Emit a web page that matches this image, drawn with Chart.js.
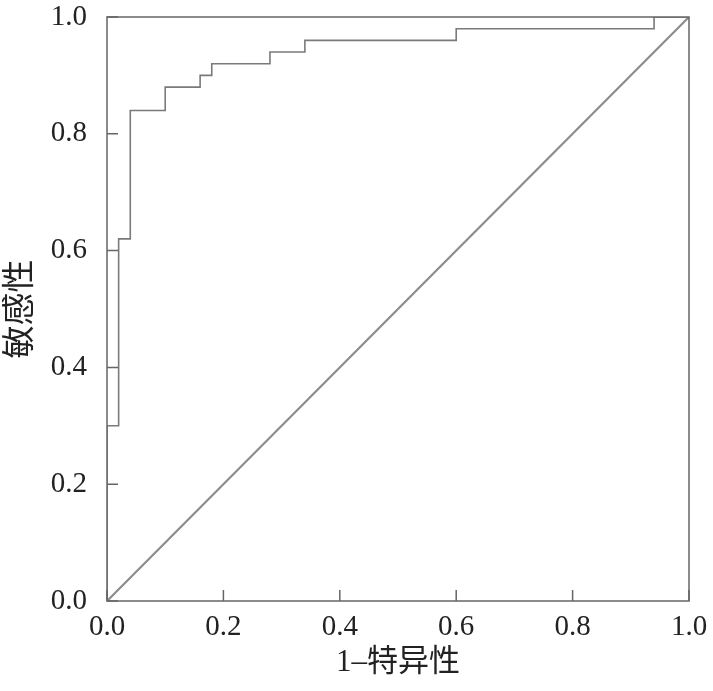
<!DOCTYPE html>
<html>
<head>
<meta charset="utf-8">
<script src="https://cdn.jsdelivr.net/npm/chart.js@4"></script>
<style>
  html, body { margin: 0; padding: 0; background: #fff; }
  canvas { display: block; }
</style>
</head>
<body>
<canvas id="canvas" width="713" height="691"></canvas>
<script>
// ROC curve points (1-specificity, sensitivity)
var fpr = [0, 0, 0.02, 0.04, 0.10, 0.16, 0.18, 0.28, 0.34, 0.60, 0.94, 1.0];
var tpr = [0, 0.30, 0.62, 0.84, 0.88, 0.90, 0.92, 0.94, 0.96, 0.98, 1.0, 1.0];
// reference line
var refX = [0, 1];
var refY = [0, 1];
var tickValues = [0, 0.2, 0.4, 0.6, 0.8, 1.0];
var xTitle = "1\u2013特异性";
var yTitle = "敏感性";

var numFont = "'Liberation Serif', 'Noto Sans CJK SC', serif";

function toPoints(xs, ys) {
	return xs.map(function(x, i) { return { x: x, y: ys[i] }; });
}

// box round the plot and short inward ticks
var framePlugin = {
	id: "frame",
	afterDraw: function(chart) {
		var ctx = chart.ctx;
		var a = chart.chartArea;
		var xs = chart.scales.x, ys = chart.scales.y;
		ctx.save();
		ctx.strokeStyle = "#666";
		ctx.lineWidth = 1.5;
		ctx.strokeRect(a.left, a.top, a.right - a.left, a.bottom - a.top);
		ctx.beginPath();
		tickValues.forEach(function(v) {
			var px = xs.getPixelForValue(v);
			ctx.moveTo(px, a.bottom);
			ctx.lineTo(px, a.bottom - 11);
			var py = ys.getPixelForValue(v);
			ctx.moveTo(a.left, py);
			ctx.lineTo(a.left + 11, py);
		});
		ctx.stroke();
		ctx.restore();
	}
};

var ctx = document.getElementById("canvas").getContext("2d");
var chart = new Chart(ctx, {
	type: "scatter",
	data: {
		datasets: [{
			data: toPoints(refX, refY),
			showLine: true,
			borderColor: "#8c8c8c",
			borderWidth: 2.2,
			pointRadius: 0
		}, {
			data: toPoints(fpr, tpr),
			showLine: true,
			stepped: "before",
			borderColor: "#7a7a7a",
			borderWidth: 1.6,
			pointRadius: 0
		}]
	},
	options: {
		responsive: false,
		animation: false,
		devicePixelRatio: 1,
		layout: { padding: { top: 17, right: 24, left: 0, bottom: 0 } },
		plugins: {
			legend: { display: false },
			tooltip: { enabled: false }
		},
		scales: {
			x: {
				type: "linear",
				min: 0,
				max: 1,
				afterFit: function(s) {
					s.height = 90;
					s.paddingLeft = 0;
					s.paddingRight = 0;
				},
				afterBuildTicks: function(s) {
					s.ticks = tickValues.map(function(v) { return { value: v }; });
				},
				grid: { display: false },
				border: { display: false },
				ticks: {
					padding: 1,
					color: "#222",
					font: { family: numFont, size: 29 },
					callback: function(v) { return v.toFixed(1); }
				},
				title: {
					display: true,
					text: xTitle,
					color: "#222",
					font: { family: numFont, size: 31 },
					padding: { top: 0, bottom: 10 }
				}
			},
			y: {
				type: "linear",
				min: 0,
				max: 1,
				afterFit: function(s) {
					s.width = 107;
					s.paddingTop = 0;
					s.paddingBottom = 0;
				},
				afterBuildTicks: function(s) {
					s.ticks = tickValues.map(function(v) { return { value: v }; });
				},
				grid: { display: false },
				border: { display: false },
				ticks: {
					padding: 12,
					color: "#222",
					font: { family: numFont, size: 29 },
					callback: function(v) { return v.toFixed(1); }
				},
				title: {
					display: true,
					text: yTitle,
					color: "#222",
					font: { family: numFont, size: 33 },
					padding: { top: 2, bottom: 0 }
				}
			}
		}
	},
	plugins: [framePlugin]
});
</script>
</body>
</html>
